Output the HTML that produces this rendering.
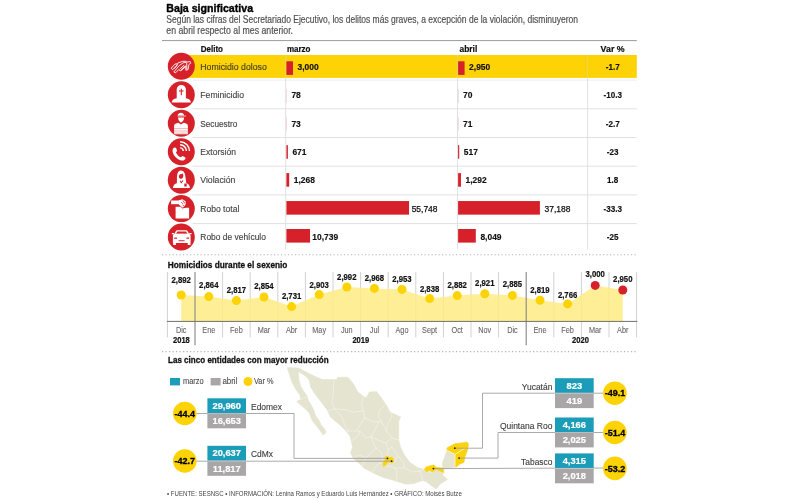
<!DOCTYPE html>
<html><head><meta charset="utf-8"><title>Baja significativa</title>
<style>
html,body{margin:0;padding:0;background:#fff;}
body{width:800px;height:500px;overflow:hidden;font-family:"Liberation Sans",sans-serif;}
svg{display:block;will-change:transform;font-family:"Liberation Sans",sans-serif;}
</style></head><body>
<svg width="800" height="500" viewBox="0 0 800 500">
<rect width="800" height="500" fill="#fff"/>
<text x="166.30" y="11.50" font-size="10.4" fill="#000" font-weight="700" stroke="#000" stroke-width="0.35" textLength="86.80" lengthAdjust="spacingAndGlyphs">Baja significativa</text>
<text x="166.30" y="23.30" font-size="10.2" fill="#505050" stroke="#505050" stroke-width="0.18" textLength="411.70" lengthAdjust="spacingAndGlyphs">Según las cifras del Secretariado Ejecutivo, los delitos más graves, a excepción de la violación, disminuyeron</text>
<text x="166.30" y="33.70" font-size="10.2" fill="#505050" stroke="#505050" stroke-width="0.18" textLength="126.70" lengthAdjust="spacingAndGlyphs">en abril respecto al mes anterior.</text>
<line x1="162.00" y1="40.60" x2="636.80" y2="40.60" stroke="#9a9a9a" stroke-width="1"/>
<text x="200.80" y="52.00" font-size="8.9" fill="#111" font-weight="700" stroke="#111" stroke-width="0.2" textLength="22.20" lengthAdjust="spacingAndGlyphs">Delito</text>
<text x="286.90" y="52.00" font-size="8.9" fill="#111" font-weight="700" stroke="#111" stroke-width="0.2" textLength="23.60" lengthAdjust="spacingAndGlyphs">marzo</text>
<text x="459.50" y="52.00" font-size="8.9" fill="#111" font-weight="700" stroke="#111" stroke-width="0.2" textLength="17.80" lengthAdjust="spacingAndGlyphs">abril</text>
<text x="600.60" y="52.00" font-size="8.9" fill="#111" font-weight="700" stroke="#111" stroke-width="0.2" textLength="24.00" lengthAdjust="spacingAndGlyphs">Var %</text>
<rect x="181.00" y="55.00" width="455.80" height="22.90" fill="#fdd306"/>
<line x1="192.50" y1="80.10" x2="636.80" y2="80.10" stroke="#ededed" stroke-width="1"/>
<line x1="192.50" y1="108.80" x2="636.80" y2="108.80" stroke="#e1e1e1" stroke-width="1"/>
<line x1="192.50" y1="137.50" x2="636.80" y2="137.50" stroke="#e1e1e1" stroke-width="1"/>
<line x1="192.50" y1="166.20" x2="636.80" y2="166.20" stroke="#e1e1e1" stroke-width="1"/>
<line x1="192.50" y1="194.90" x2="636.80" y2="194.90" stroke="#e1e1e1" stroke-width="1"/>
<line x1="192.50" y1="223.60" x2="636.80" y2="223.60" stroke="#e1e1e1" stroke-width="1"/>
<line x1="285.70" y1="55.00" x2="285.70" y2="78.00" stroke="#d9d9d9" stroke-width="0.9" stroke-opacity="0.45"/>
<line x1="285.70" y1="78.00" x2="285.70" y2="249.50" stroke="#dedede" stroke-width="0.9"/>
<line x1="457.50" y1="55.00" x2="457.50" y2="78.00" stroke="#d9d9d9" stroke-width="0.9" stroke-opacity="0.45"/>
<line x1="457.50" y1="78.00" x2="457.50" y2="249.50" stroke="#dedede" stroke-width="0.9"/>
<line x1="587.60" y1="55.00" x2="587.60" y2="78.00" stroke="#d9d9d9" stroke-width="0.9" stroke-opacity="0.45"/>
<line x1="587.60" y1="78.00" x2="587.60" y2="249.50" stroke="#dedede" stroke-width="0.9"/>
<circle cx="181.30" cy="66.30" r="13.50" fill="#d6212a"/>
<text x="200.30" y="70.00" font-size="9.5" fill="#454128" stroke="#454128" stroke-width="0.15" textLength="66.50" lengthAdjust="spacingAndGlyphs">Homicidio doloso</text>
<rect x="286.40" y="61.30" width="6.60" height="13.60" fill="#d6212a"/>
<text x="297.50" y="70.10" font-size="9" fill="#111" font-weight="700" stroke="#111" stroke-width="0.15" textLength="21.17" lengthAdjust="spacingAndGlyphs">3,000</text>
<rect x="458.10" y="61.30" width="6.49" height="13.60" fill="#d6212a"/>
<text x="469.09" y="70.10" font-size="9" fill="#111" font-weight="700" stroke="#111" stroke-width="0.15" textLength="21.17" lengthAdjust="spacingAndGlyphs">2,950</text>
<text x="612.70" y="70.10" font-size="9" fill="#111" font-weight="700" stroke="#111" stroke-width="0.15" text-anchor="middle" textLength="13.96" lengthAdjust="spacingAndGlyphs">-1.7</text>
<circle cx="181.30" cy="94.76" r="13.50" fill="#d6212a"/>
<text x="200.30" y="98.30" font-size="9.5" fill="#454545" stroke="#454545" stroke-width="0.15" textLength="43.70" lengthAdjust="spacingAndGlyphs">Feminicidio</text>
<rect x="286.40" y="89.25" width="0.50" height="13.60" fill="#f0b9bb"/>
<text x="291.40" y="98.40" font-size="9" fill="#111" font-weight="700" stroke="#111" stroke-width="0.15" textLength="9.41" lengthAdjust="spacingAndGlyphs">78</text>
<rect x="458.10" y="89.25" width="0.50" height="13.60" fill="#f0b9bb"/>
<text x="463.10" y="98.40" font-size="9" fill="#111" font-weight="700" stroke="#111" stroke-width="0.15" textLength="9.41" lengthAdjust="spacingAndGlyphs">70</text>
<text x="612.70" y="98.40" font-size="9" fill="#111" font-weight="700" stroke="#111" stroke-width="0.15" text-anchor="middle" textLength="18.46" lengthAdjust="spacingAndGlyphs">-10.3</text>
<circle cx="181.30" cy="123.22" r="13.50" fill="#d6212a"/>
<text x="200.30" y="126.60" font-size="9.5" fill="#454545" stroke="#454545" stroke-width="0.15" textLength="37.00" lengthAdjust="spacingAndGlyphs">Secuestro</text>
<rect x="286.40" y="117.20" width="0.50" height="13.60" fill="#f0b9bb"/>
<text x="291.40" y="126.70" font-size="9" fill="#111" font-weight="700" stroke="#111" stroke-width="0.15" textLength="9.41" lengthAdjust="spacingAndGlyphs">73</text>
<rect x="458.10" y="117.20" width="0.50" height="13.60" fill="#f0b9bb"/>
<text x="463.10" y="126.70" font-size="9" fill="#111" font-weight="700" stroke="#111" stroke-width="0.15" textLength="9.41" lengthAdjust="spacingAndGlyphs">71</text>
<text x="612.70" y="126.70" font-size="9" fill="#111" font-weight="700" stroke="#111" stroke-width="0.15" text-anchor="middle" textLength="13.96" lengthAdjust="spacingAndGlyphs">-2.7</text>
<circle cx="181.30" cy="151.68" r="13.50" fill="#d6212a"/>
<text x="200.30" y="154.90" font-size="9.5" fill="#454545" stroke="#454545" stroke-width="0.15" textLength="35.60" lengthAdjust="spacingAndGlyphs">Extorsión</text>
<rect x="286.40" y="145.15" width="1.48" height="13.60" fill="#d6212a"/>
<text x="292.38" y="155.00" font-size="9" fill="#111" font-weight="700" stroke="#111" stroke-width="0.15" textLength="14.12" lengthAdjust="spacingAndGlyphs">671</text>
<rect x="458.10" y="145.15" width="1.14" height="13.60" fill="#d6212a"/>
<text x="463.74" y="155.00" font-size="9" fill="#111" font-weight="700" stroke="#111" stroke-width="0.15" textLength="14.12" lengthAdjust="spacingAndGlyphs">517</text>
<text x="612.70" y="155.00" font-size="9" fill="#111" font-weight="700" stroke="#111" stroke-width="0.15" text-anchor="middle" textLength="11.71" lengthAdjust="spacingAndGlyphs">-23</text>
<circle cx="181.30" cy="180.14" r="13.50" fill="#d6212a"/>
<text x="200.30" y="183.20" font-size="9.5" fill="#454545" stroke="#454545" stroke-width="0.15" textLength="35.00" lengthAdjust="spacingAndGlyphs">Violación</text>
<rect x="286.40" y="173.10" width="2.79" height="13.60" fill="#d6212a"/>
<text x="293.69" y="183.30" font-size="9" fill="#111" font-weight="700" stroke="#111" stroke-width="0.15" textLength="21.17" lengthAdjust="spacingAndGlyphs">1,268</text>
<rect x="458.10" y="173.10" width="2.84" height="13.60" fill="#d6212a"/>
<text x="465.44" y="183.30" font-size="9" fill="#111" font-weight="700" stroke="#111" stroke-width="0.15" textLength="21.17" lengthAdjust="spacingAndGlyphs">1,292</text>
<text x="612.70" y="183.30" font-size="9" fill="#111" font-weight="700" stroke="#111" stroke-width="0.15" text-anchor="middle" textLength="11.26" lengthAdjust="spacingAndGlyphs">1.8</text>
<circle cx="181.30" cy="208.60" r="13.50" fill="#d6212a"/>
<text x="200.30" y="211.50" font-size="9.5" fill="#454545" stroke="#454545" stroke-width="0.15" textLength="39.00" lengthAdjust="spacingAndGlyphs">Robo total</text>
<rect x="286.40" y="201.05" width="122.65" height="13.60" fill="#d6212a"/>
<text x="411.65" y="211.60" font-size="9" fill="#111" stroke="#111" stroke-width="0.25" textLength="25.88" lengthAdjust="spacingAndGlyphs">55,748</text>
<rect x="458.10" y="201.05" width="81.81" height="13.60" fill="#d6212a"/>
<text x="544.51" y="211.60" font-size="9" fill="#111" stroke="#111" stroke-width="0.25" textLength="25.88" lengthAdjust="spacingAndGlyphs">37,188</text>
<text x="612.70" y="211.60" font-size="9" fill="#111" font-weight="700" stroke="#111" stroke-width="0.15" text-anchor="middle" textLength="18.46" lengthAdjust="spacingAndGlyphs">-33.3</text>
<circle cx="181.30" cy="237.06" r="13.50" fill="#d6212a"/>
<text x="200.30" y="239.80" font-size="9.5" fill="#454545" stroke="#454545" stroke-width="0.15" textLength="65.60" lengthAdjust="spacingAndGlyphs">Robo de vehículo</text>
<rect x="286.40" y="229.00" width="23.63" height="13.60" fill="#d6212a"/>
<text x="312.23" y="239.90" font-size="9" fill="#111" font-weight="700" stroke="#111" stroke-width="0.15" textLength="25.88" lengthAdjust="spacingAndGlyphs">10,739</text>
<rect x="458.10" y="229.00" width="17.71" height="13.60" fill="#d6212a"/>
<text x="480.41" y="239.90" font-size="9" fill="#111" font-weight="700" stroke="#111" stroke-width="0.15" textLength="21.17" lengthAdjust="spacingAndGlyphs">8,049</text>
<text x="612.70" y="239.90" font-size="9" fill="#111" font-weight="700" stroke="#111" stroke-width="0.15" text-anchor="middle" textLength="11.71" lengthAdjust="spacingAndGlyphs">-25</text>
<line x1="162.00" y1="254.70" x2="637.30" y2="254.70" stroke="#b5b5b5" stroke-width="1.1" stroke-dasharray="1.2 2.3"/>
<line x1="162.00" y1="351.60" x2="637.30" y2="351.60" stroke="#b5b5b5" stroke-width="1.1" stroke-dasharray="1.2 2.3"/>
<text x="167.80" y="267.50" font-size="9.3" fill="#111" font-weight="700" stroke="#111" stroke-width="0.3" textLength="119.60" lengthAdjust="spacingAndGlyphs">Homicidios durante el sexenio</text>
<line x1="167.40" y1="272.00" x2="167.40" y2="337.40" stroke="#d2d2d2" stroke-width="1"/>
<line x1="222.60" y1="272.00" x2="222.60" y2="337.40" stroke="#d2d2d2" stroke-width="1"/>
<line x1="250.20" y1="272.00" x2="250.20" y2="337.40" stroke="#d2d2d2" stroke-width="1"/>
<line x1="277.80" y1="272.00" x2="277.80" y2="337.40" stroke="#d2d2d2" stroke-width="1"/>
<line x1="305.40" y1="272.00" x2="305.40" y2="337.40" stroke="#d2d2d2" stroke-width="1"/>
<line x1="333.00" y1="272.00" x2="333.00" y2="337.40" stroke="#d2d2d2" stroke-width="1"/>
<line x1="360.60" y1="272.00" x2="360.60" y2="337.40" stroke="#d2d2d2" stroke-width="1"/>
<line x1="388.20" y1="272.00" x2="388.20" y2="337.40" stroke="#d2d2d2" stroke-width="1"/>
<line x1="415.80" y1="272.00" x2="415.80" y2="337.40" stroke="#d2d2d2" stroke-width="1"/>
<line x1="443.40" y1="272.00" x2="443.40" y2="337.40" stroke="#d2d2d2" stroke-width="1"/>
<line x1="471.00" y1="272.00" x2="471.00" y2="337.40" stroke="#d2d2d2" stroke-width="1"/>
<line x1="498.60" y1="272.00" x2="498.60" y2="337.40" stroke="#d2d2d2" stroke-width="1"/>
<line x1="553.80" y1="272.00" x2="553.80" y2="337.40" stroke="#d2d2d2" stroke-width="1"/>
<line x1="581.40" y1="272.00" x2="581.40" y2="337.40" stroke="#d2d2d2" stroke-width="1"/>
<line x1="609.00" y1="272.00" x2="609.00" y2="337.40" stroke="#d2d2d2" stroke-width="1"/>
<line x1="636.60" y1="272.00" x2="636.60" y2="337.40" stroke="#d2d2d2" stroke-width="1"/>
<polygon points="181.2,321.3 181.2,295.0 208.8,296.6 236.4,300.6 264.0,297.0 291.6,306.6 319.2,294.6 346.8,287.0 374.4,288.4 402.0,289.4 429.6,298.6 457.2,295.6 484.8,293.7 512.4,295.4 540.0,300.3 567.6,303.9 595.2,285.4 622.8,290.0 622.8,321.3" fill="#feeb85" fill-opacity="0.86"/>
<line x1="195.00" y1="272.00" x2="195.00" y2="345.30" stroke="#8f8f8f" stroke-width="1.2"/>
<line x1="526.20" y1="272.00" x2="526.20" y2="345.30" stroke="#8f8f8f" stroke-width="1.2"/>
<line x1="166.90" y1="321.40" x2="637.30" y2="321.40" stroke="#6e6e6e" stroke-width="1"/>
<circle cx="181.20" cy="295.00" r="4.50" fill="#fdd306"/>
<text x="181.20" y="283.00" font-size="8.6" fill="#111" font-weight="700" stroke="#111" stroke-width="0.2" text-anchor="middle" textLength="19.37" lengthAdjust="spacingAndGlyphs">2,892</text>
<text x="181.20" y="333.00" font-size="8.9" fill="#666" stroke="#666" stroke-width="0.1" text-anchor="middle" textLength="10.54" lengthAdjust="spacingAndGlyphs">Dic</text>
<circle cx="208.80" cy="296.60" r="4.50" fill="#fdd306"/>
<text x="208.80" y="288.20" font-size="8.6" fill="#111" font-weight="700" stroke="#111" stroke-width="0.2" text-anchor="middle" textLength="19.37" lengthAdjust="spacingAndGlyphs">2,864</text>
<text x="208.80" y="333.00" font-size="8.9" fill="#666" stroke="#666" stroke-width="0.1" text-anchor="middle" textLength="12.99" lengthAdjust="spacingAndGlyphs">Ene</text>
<circle cx="236.40" cy="300.60" r="4.50" fill="#fdd306"/>
<text x="236.40" y="292.70" font-size="8.6" fill="#111" font-weight="700" stroke="#111" stroke-width="0.2" text-anchor="middle" textLength="19.37" lengthAdjust="spacingAndGlyphs">2,817</text>
<text x="236.40" y="333.00" font-size="8.9" fill="#666" stroke="#666" stroke-width="0.1" text-anchor="middle" textLength="12.58" lengthAdjust="spacingAndGlyphs">Feb</text>
<circle cx="264.00" cy="297.00" r="4.50" fill="#fdd306"/>
<text x="264.00" y="289.20" font-size="8.6" fill="#111" font-weight="700" stroke="#111" stroke-width="0.2" text-anchor="middle" textLength="19.37" lengthAdjust="spacingAndGlyphs">2,854</text>
<text x="264.00" y="333.00" font-size="8.9" fill="#666" stroke="#666" stroke-width="0.1" text-anchor="middle" textLength="12.57" lengthAdjust="spacingAndGlyphs">Mar</text>
<circle cx="291.60" cy="306.60" r="4.50" fill="#fdd306"/>
<text x="291.60" y="299.20" font-size="8.6" fill="#111" font-weight="700" stroke="#111" stroke-width="0.2" text-anchor="middle" textLength="19.37" lengthAdjust="spacingAndGlyphs">2,731</text>
<text x="291.60" y="333.00" font-size="8.9" fill="#666" stroke="#666" stroke-width="0.1" text-anchor="middle" textLength="11.36" lengthAdjust="spacingAndGlyphs">Abr</text>
<circle cx="319.20" cy="294.60" r="4.50" fill="#fdd306"/>
<text x="319.20" y="288.00" font-size="8.6" fill="#111" font-weight="700" stroke="#111" stroke-width="0.2" text-anchor="middle" textLength="19.37" lengthAdjust="spacingAndGlyphs">2,903</text>
<text x="319.20" y="333.00" font-size="8.9" fill="#666" stroke="#666" stroke-width="0.1" text-anchor="middle" textLength="13.79" lengthAdjust="spacingAndGlyphs">May</text>
<circle cx="346.80" cy="287.00" r="4.50" fill="#fdd306"/>
<text x="346.80" y="279.50" font-size="8.6" fill="#111" font-weight="700" stroke="#111" stroke-width="0.2" text-anchor="middle" textLength="19.37" lengthAdjust="spacingAndGlyphs">2,992</text>
<text x="346.80" y="333.00" font-size="8.9" fill="#666" stroke="#666" stroke-width="0.1" text-anchor="middle" textLength="11.77" lengthAdjust="spacingAndGlyphs">Jun</text>
<circle cx="374.40" cy="288.40" r="4.50" fill="#fdd306"/>
<text x="374.40" y="280.50" font-size="8.6" fill="#111" font-weight="700" stroke="#111" stroke-width="0.2" text-anchor="middle" textLength="19.37" lengthAdjust="spacingAndGlyphs">2,968</text>
<text x="374.40" y="333.00" font-size="8.9" fill="#666" stroke="#666" stroke-width="0.1" text-anchor="middle" textLength="9.33" lengthAdjust="spacingAndGlyphs">Jul</text>
<circle cx="402.00" cy="289.40" r="4.50" fill="#fdd306"/>
<text x="402.00" y="282.00" font-size="8.6" fill="#111" font-weight="700" stroke="#111" stroke-width="0.2" text-anchor="middle" textLength="19.37" lengthAdjust="spacingAndGlyphs">2,953</text>
<text x="402.00" y="333.00" font-size="8.9" fill="#666" stroke="#666" stroke-width="0.1" text-anchor="middle" textLength="12.99" lengthAdjust="spacingAndGlyphs">Ago</text>
<circle cx="429.60" cy="298.60" r="4.50" fill="#fdd306"/>
<text x="429.60" y="291.50" font-size="8.6" fill="#111" font-weight="700" stroke="#111" stroke-width="0.2" text-anchor="middle" textLength="19.37" lengthAdjust="spacingAndGlyphs">2,838</text>
<text x="429.60" y="333.00" font-size="8.9" fill="#666" stroke="#666" stroke-width="0.1" text-anchor="middle" textLength="15.01" lengthAdjust="spacingAndGlyphs">Sept</text>
<circle cx="457.20" cy="295.60" r="4.50" fill="#fdd306"/>
<text x="457.20" y="288.00" font-size="8.6" fill="#111" font-weight="700" stroke="#111" stroke-width="0.2" text-anchor="middle" textLength="19.37" lengthAdjust="spacingAndGlyphs">2,882</text>
<text x="457.20" y="333.00" font-size="8.9" fill="#666" stroke="#666" stroke-width="0.1" text-anchor="middle" textLength="11.35" lengthAdjust="spacingAndGlyphs">Oct</text>
<circle cx="484.80" cy="293.70" r="4.50" fill="#fdd306"/>
<text x="484.80" y="285.90" font-size="8.6" fill="#111" font-weight="700" stroke="#111" stroke-width="0.2" text-anchor="middle" textLength="19.37" lengthAdjust="spacingAndGlyphs">2,921</text>
<text x="484.80" y="333.00" font-size="8.9" fill="#666" stroke="#666" stroke-width="0.1" text-anchor="middle" textLength="12.98" lengthAdjust="spacingAndGlyphs">Nov</text>
<circle cx="512.40" cy="295.40" r="4.50" fill="#fdd306"/>
<text x="512.40" y="287.40" font-size="8.6" fill="#111" font-weight="700" stroke="#111" stroke-width="0.2" text-anchor="middle" textLength="19.37" lengthAdjust="spacingAndGlyphs">2,885</text>
<text x="512.40" y="333.00" font-size="8.9" fill="#666" stroke="#666" stroke-width="0.1" text-anchor="middle" textLength="10.54" lengthAdjust="spacingAndGlyphs">Dic</text>
<circle cx="540.00" cy="300.30" r="4.50" fill="#fdd306"/>
<text x="540.00" y="293.30" font-size="8.6" fill="#111" font-weight="700" stroke="#111" stroke-width="0.2" text-anchor="middle" textLength="19.37" lengthAdjust="spacingAndGlyphs">2,819</text>
<text x="540.00" y="333.00" font-size="8.9" fill="#666" stroke="#666" stroke-width="0.1" text-anchor="middle" textLength="12.99" lengthAdjust="spacingAndGlyphs">Ene</text>
<circle cx="567.60" cy="303.90" r="4.50" fill="#fdd306"/>
<text x="567.60" y="297.60" font-size="8.6" fill="#111" font-weight="700" stroke="#111" stroke-width="0.2" text-anchor="middle" textLength="19.37" lengthAdjust="spacingAndGlyphs">2,766</text>
<text x="567.60" y="333.00" font-size="8.9" fill="#666" stroke="#666" stroke-width="0.1" text-anchor="middle" textLength="12.58" lengthAdjust="spacingAndGlyphs">Feb</text>
<circle cx="595.20" cy="285.40" r="4.50" fill="#d6212a"/>
<text x="595.20" y="277.40" font-size="8.6" fill="#111" font-weight="700" stroke="#111" stroke-width="0.2" text-anchor="middle" textLength="19.37" lengthAdjust="spacingAndGlyphs">3,000</text>
<text x="595.20" y="333.00" font-size="8.9" fill="#666" stroke="#666" stroke-width="0.1" text-anchor="middle" textLength="12.57" lengthAdjust="spacingAndGlyphs">Mar</text>
<circle cx="622.80" cy="290.00" r="4.50" fill="#d6212a"/>
<text x="622.80" y="282.30" font-size="8.6" fill="#111" font-weight="700" stroke="#111" stroke-width="0.2" text-anchor="middle" textLength="19.37" lengthAdjust="spacingAndGlyphs">2,950</text>
<text x="622.80" y="333.00" font-size="8.9" fill="#666" stroke="#666" stroke-width="0.1" text-anchor="middle" textLength="11.36" lengthAdjust="spacingAndGlyphs">Abr</text>
<text x="181.40" y="343.30" font-size="8.6" fill="#111" font-weight="700" stroke="#111" stroke-width="0.2" text-anchor="middle" textLength="16.84" lengthAdjust="spacingAndGlyphs">2018</text>
<text x="360.80" y="343.30" font-size="8.6" fill="#111" font-weight="700" stroke="#111" stroke-width="0.2" text-anchor="middle" textLength="16.84" lengthAdjust="spacingAndGlyphs">2019</text>
<text x="580.50" y="343.30" font-size="8.6" fill="#111" font-weight="700" stroke="#111" stroke-width="0.2" text-anchor="middle" textLength="16.84" lengthAdjust="spacingAndGlyphs">2020</text>
<text x="168.00" y="363.00" font-size="9.3" fill="#111" font-weight="700" stroke="#111" stroke-width="0.3" textLength="160.70" lengthAdjust="spacingAndGlyphs">Las cinco entidades con mayor reducción</text>
<rect x="170.00" y="378.00" width="10.00" height="7.40" fill="#1b9cb8"/>
<text x="183.00" y="384.00" font-size="8.8" fill="#4a4a4a" stroke="#4a4a4a" stroke-width="0.1" textLength="20.60" lengthAdjust="spacingAndGlyphs">marzo</text>
<rect x="210.60" y="378.00" width="10.00" height="7.40" fill="#a8a6a7"/>
<text x="222.40" y="384.00" font-size="8.8" fill="#4a4a4a" stroke="#4a4a4a" stroke-width="0.1" textLength="15.00" lengthAdjust="spacingAndGlyphs">abril</text>
<circle cx="248.00" cy="381.50" r="4.50" fill="#fdd306"/>
<text x="254.00" y="384.00" font-size="8.8" fill="#4a4a4a" stroke="#4a4a4a" stroke-width="0.1" textLength="19.40" lengthAdjust="spacingAndGlyphs">Var %</text>
<path d="M287.2,367.6 L298.8,368.0 L305.0,371.4 L317.5,377.6 L322.5,379.5 L336.9,379.5 L337.5,377.2 L347.5,377.2 L350.0,379.5 L353.8,384.5 L357.5,391.4 L362.5,395.8 L366.2,397.6 L369.4,392.0 L376.5,391.6 L381.2,397.5 L386.2,405.0 L390.6,412.5 L400.6,416.9 L398.8,421.2 L398.8,440.0 L400.6,447.5 L404.4,455.0 L410.0,462.5 L417.5,467.5 L424.4,469.4 L426.2,466.9 L433.8,465.0 L436.2,467.5 L442.5,468.1 L442.5,462.5 L445.0,456.2 L446.9,450.0 L446.9,448.1 L455.0,443.8 L462.5,442.9 L466.9,441.9 L468.5,443.8 L467.5,450.0 L465.0,456.2 L463.8,462.5 L460.0,463.8 L456.2,466.9 L455.0,467.2 L444.0,469.0 L443.8,471.8 L442.5,474.9 L447.5,479.2 L440.0,484.2 L436.2,489.2 L431.2,485.5 L426.2,481.8 L422.5,480.5 L413.8,483.6 L406.2,484.2 L398.8,482.0 L392.5,480.0 L385.0,478.1 L377.5,475.0 L370.0,471.2 L363.8,468.1 L358.8,463.1 L353.8,458.8 L350.6,453.1 L352.5,446.9 L351.2,441.2 L350.0,436.2 L346.2,431.2 L340.0,425.0 L333.8,420.0 L330.0,416.5 L328.8,413.0 L326.9,409.5 L323.1,404.5 L318.8,398.9 L314.4,393.2 L310.6,387.0 L309.4,380.8 L306.2,376.4 L300.0,372.6 L299.2,371.3 L298.5,373.2 L298.8,379.5 L300.6,385.8 L303.8,391.4 L306.9,395.8 L308.1,400.1 L311.2,405.1 L313.8,410.1 L315.6,415.8 L318.8,420.0 L321.2,425.0 L324.4,428.8 L326.2,432.5 L323.1,435.0 L320.6,431.2 L316.2,425.6 L311.9,420.0 L309.4,413.2 L305.6,408.9 L300.6,405.1 L296.9,401.4 L300.6,399.5 L300.0,395.1 L295.6,388.9 L291.9,382.0 L289.4,374.5Z" fill="#e5e4d1" stroke="#e5e4d1" stroke-width="0.6" stroke-linejoin="round"/>
<path d="M300.6,399.5 L306.9,397.0 M334.0,379.5 L333.0,397.5 L331.5,402.0 L334.6,408.8 M334.6,408.8 L328.0,411.0 M334.6,408.8 L348.1,409.9 L352.6,412.1 L363.3,411.0 M366.0,397.6 L363.3,396.4 L361.6,403.1 L363.3,411.0 M334.6,408.8 L342.5,417.8 L344.8,425.6 L348.1,431.0 M348.1,431.0 L345.8,431.6 M363.3,411.0 L365.0,417.8 M365.0,417.8 L360.0,425.0 L356.0,431.0 L348.1,431.0 M365.0,417.8 L373.0,422.0 L379.0,421.5 M384.7,405.4 L379.6,409.9 L378.5,416.6 L381.9,422.2 M387.5,406.5 L392.0,416.6 L387.5,424.5 L386.4,431.0 M379.0,421.5 L381.9,422.2 M379.0,421.5 L375.0,430.0 L371.0,437.0 M381.9,422.2 L386.4,431.0 L392.0,438.0 L398.5,440.0 M351.5,441.0 L357.0,437.0 L360.0,431.0 L356.0,431.0 M360.0,431.0 L366.0,438.0 L371.0,437.0 M362.0,466.5 L366.0,458.0 L372.0,452.0 L376.0,448.0 M371.0,437.0 L374.0,444.0 L376.0,448.0 M371.0,437.0 L380.0,441.0 L386.0,443.0 M386.0,443.0 L392.0,438.0 M372.0,471.8 L378.0,464.0 L383.0,462.0 M376.0,448.0 L381.0,452.0 L383.0,460.0 M396.0,481.3 L397.0,472.0 L395.0,468.0 M385.6,465.6 L389.0,466.0 L395.0,468.0 M392.0,447.0 L398.0,456.0 L403.0,462.0 L405.0,468.0 M395.0,468.0 L405.0,468.0 L412.0,472.0 L420.0,471.0 M420.0,471.0 L423.0,480.5 M420.0,471.0 L424.4,469.4 M386.0,443.0 L388.0,450.0 L392.0,447.0 M388.0,450.0 L387.5,456.0 M393.8,461.9 L398.0,456.0 M426.9,472.2 L432.5,471.9 L436.2,469.4 L440.0,471.2 L444.0,472.5 M354.0,458.5 L358.0,455.0 L362.0,456.0 L366.0,458.0" fill="none" stroke="#f3f2e8" stroke-width="0.7" stroke-linejoin="round" stroke-linecap="round"/>
<path d="M385.0,456.9 L387.5,456.0 L389.4,458.1 L390.6,456.9 L393.1,458.1 L393.8,461.9 L391.9,463.1 L390.0,461.9 L387.5,462.5 L385.6,465.6 L383.1,466.2 L383.1,462.5 L385.0,460.0Z" fill="#fdd306" stroke="#fdd306" stroke-width="0.5" stroke-linejoin="round"/>
<path d="M446.9,448.1 L455.0,443.8 L466.2,442.5 L465.0,448.1 L455.0,454.4 L447.5,450.6Z" fill="#fdd306" stroke="#fdd306" stroke-width="0.5" stroke-linejoin="round"/>
<path d="M466.2,441.9 L468.5,443.8 L467.5,450.0 L465.0,456.2 L463.8,462.5 L460.0,463.8 L456.2,466.9 L455.0,466.2 L455.0,454.4 L465.0,448.1Z" fill="#fdd306" stroke="#fdd306" stroke-width="0.5" stroke-linejoin="round"/>
<path d="M424.4,469.4 L426.2,466.9 L433.8,465.0 L436.2,467.5 L442.5,468.1 L444.0,472.5 L440.0,471.2 L436.2,469.4 L432.5,471.9 L428.8,470.0 L426.9,472.2Z" fill="#fdd306" stroke="#fdd306" stroke-width="0.5" stroke-linejoin="round"/>
<path d="M465,448.1 L455,454.4 L455,466.5 M455,454.4 L447.2,450.4" fill="none" stroke="#fff" stroke-width="0.7"/>
<polyline points="196,413.5 294,413.5 294,458.4 387.5,458.4" fill="none" stroke="#a0a0a0" stroke-width="0.9"/>
<polyline points="196,461.2 391.6,461.2" fill="none" stroke="#a0a0a0" stroke-width="0.9"/>
<rect x="207.40" y="398.30" width="38.60" height="14.90" fill="#1b9cb8"/>
<rect x="207.40" y="413.80" width="38.60" height="14.50" fill="#a8a6a7"/>
<line x1="207.40" y1="413.50" x2="246.00" y2="413.50" stroke="#d8c9cb" stroke-width="0.6"/>
<text x="226.70" y="408.70" font-size="9.4" fill="#fff" font-weight="700" stroke="#fff" stroke-width="0.2" text-anchor="middle" textLength="28.46" lengthAdjust="spacingAndGlyphs">29,960</text>
<text x="226.70" y="424.30" font-size="9.4" fill="#fff" font-weight="700" stroke="#fff" stroke-width="0.2" text-anchor="middle" textLength="28.46" lengthAdjust="spacingAndGlyphs">16,653</text>
<circle cx="184.80" cy="413.50" r="11.80" fill="#fdd306"/>
<text x="184.80" y="416.70" font-size="9.0" fill="#000" font-weight="700" stroke="#000" stroke-width="0.3" text-anchor="middle" textLength="20.51" lengthAdjust="spacingAndGlyphs">-44.4</text>
<text x="251.00" y="409.50" font-size="9.6" fill="#3c3c3c" stroke="#3c3c3c" stroke-width="0.12" textLength="31.00" lengthAdjust="spacingAndGlyphs">Edomex</text>
<rect x="207.40" y="445.80" width="38.60" height="14.90" fill="#1b9cb8"/>
<rect x="207.40" y="461.30" width="38.60" height="14.50" fill="#a8a6a7"/>
<line x1="207.40" y1="461.00" x2="246.00" y2="461.00" stroke="#d8c9cb" stroke-width="0.6"/>
<text x="226.70" y="456.20" font-size="9.4" fill="#fff" font-weight="700" stroke="#fff" stroke-width="0.2" text-anchor="middle" textLength="28.46" lengthAdjust="spacingAndGlyphs">20,637</text>
<text x="226.70" y="471.80" font-size="9.4" fill="#fff" font-weight="700" stroke="#fff" stroke-width="0.2" text-anchor="middle" textLength="27.95" lengthAdjust="spacingAndGlyphs">11,817</text>
<circle cx="184.80" cy="461.00" r="11.80" fill="#fdd306"/>
<text x="184.80" y="464.20" font-size="9.0" fill="#000" font-weight="700" stroke="#000" stroke-width="0.3" text-anchor="middle" textLength="20.51" lengthAdjust="spacingAndGlyphs">-42.7</text>
<text x="251.00" y="457.00" font-size="9.6" fill="#3c3c3c" stroke="#3c3c3c" stroke-width="0.12" textLength="22.00" lengthAdjust="spacingAndGlyphs">CdMx</text>
<polyline points="603,393.2 482.5,393.2 482.5,448.2 454.8,448.2" fill="none" stroke="#a0a0a0" stroke-width="0.9"/>
<polyline points="603,432.5 498,432.5 498,458.1 459.1,458.1" fill="none" stroke="#a0a0a0" stroke-width="0.9"/>
<polyline points="603,468 433.4,468.6" fill="none" stroke="#a0a0a0" stroke-width="0.9"/>
<rect x="555.00" y="378.20" width="38.70" height="14.70" fill="#1b9cb8"/>
<rect x="555.00" y="393.50" width="38.70" height="14.60" fill="#a8a6a7"/>
<line x1="555.00" y1="393.20" x2="593.70" y2="393.20" stroke="#d8c9cb" stroke-width="0.6"/>
<text x="574.30" y="388.80" font-size="9.4" fill="#fff" font-weight="700" stroke="#fff" stroke-width="0.2" text-anchor="middle" textLength="15.53" lengthAdjust="spacingAndGlyphs">823</text>
<text x="574.30" y="404.10" font-size="9.4" fill="#fff" font-weight="700" stroke="#fff" stroke-width="0.2" text-anchor="middle" textLength="15.53" lengthAdjust="spacingAndGlyphs">419</text>
<circle cx="614.90" cy="393.20" r="11.80" fill="#fdd306"/>
<text x="614.90" y="396.40" font-size="9.0" fill="#000" font-weight="700" stroke="#000" stroke-width="0.3" text-anchor="middle" textLength="20.51" lengthAdjust="spacingAndGlyphs">-49.1</text>
<text x="552.40" y="389.90" font-size="9.6" fill="#3c3c3c" stroke="#3c3c3c" stroke-width="0.12" text-anchor="end" textLength="30.60" lengthAdjust="spacingAndGlyphs">Yucatán</text>
<rect x="555.00" y="417.50" width="38.70" height="14.70" fill="#1b9cb8"/>
<rect x="555.00" y="432.80" width="38.70" height="14.60" fill="#a8a6a7"/>
<line x1="555.00" y1="432.50" x2="593.70" y2="432.50" stroke="#d8c9cb" stroke-width="0.6"/>
<text x="574.30" y="428.10" font-size="9.4" fill="#fff" font-weight="700" stroke="#fff" stroke-width="0.2" text-anchor="middle" textLength="23.29" lengthAdjust="spacingAndGlyphs">4,166</text>
<text x="574.30" y="443.40" font-size="9.4" fill="#fff" font-weight="700" stroke="#fff" stroke-width="0.2" text-anchor="middle" textLength="23.29" lengthAdjust="spacingAndGlyphs">2,025</text>
<circle cx="614.90" cy="432.50" r="11.80" fill="#fdd306"/>
<text x="614.90" y="435.70" font-size="9.0" fill="#000" font-weight="700" stroke="#000" stroke-width="0.3" text-anchor="middle" textLength="20.51" lengthAdjust="spacingAndGlyphs">-51.4</text>
<text x="552.40" y="429.20" font-size="9.6" fill="#3c3c3c" stroke="#3c3c3c" stroke-width="0.12" text-anchor="end" textLength="52.50" lengthAdjust="spacingAndGlyphs">Quintana Roo</text>
<rect x="555.00" y="453.40" width="38.70" height="14.70" fill="#1b9cb8"/>
<rect x="555.00" y="468.70" width="38.70" height="14.60" fill="#a8a6a7"/>
<line x1="555.00" y1="468.40" x2="593.70" y2="468.40" stroke="#d8c9cb" stroke-width="0.6"/>
<text x="574.30" y="464.00" font-size="9.4" fill="#fff" font-weight="700" stroke="#fff" stroke-width="0.2" text-anchor="middle" textLength="23.29" lengthAdjust="spacingAndGlyphs">4,315</text>
<text x="574.30" y="479.30" font-size="9.4" fill="#fff" font-weight="700" stroke="#fff" stroke-width="0.2" text-anchor="middle" textLength="23.29" lengthAdjust="spacingAndGlyphs">2,018</text>
<circle cx="614.90" cy="468.40" r="11.80" fill="#fdd306"/>
<text x="614.90" y="471.60" font-size="9.0" fill="#000" font-weight="700" stroke="#000" stroke-width="0.3" text-anchor="middle" textLength="20.51" lengthAdjust="spacingAndGlyphs">-53.2</text>
<text x="552.40" y="465.10" font-size="9.6" fill="#3c3c3c" stroke="#3c3c3c" stroke-width="0.12" text-anchor="end" textLength="31.30" lengthAdjust="spacingAndGlyphs">Tabasco</text>
<circle cx="387.5" cy="458.4" r="0.9" fill="#222"/>
<circle cx="391.6" cy="461.2" r="0.9" fill="#222"/>
<circle cx="454.8" cy="448.2" r="0.9" fill="#222"/>
<circle cx="459.1" cy="458.1" r="0.9" fill="#222"/>
<circle cx="433.4" cy="468.6" r="0.9" fill="#222"/>
<text x="167.00" y="496.20" font-size="6.6" fill="#444" textLength="294.80" lengthAdjust="spacingAndGlyphs">• FUENTE: SESNSC • INFORMACIÓN: Lenina Ramos y Eduardo Luis Hernández • GRÁFICO: Moisés Butze</text>
<g transform="translate(181.3,66.30)"><g fill="none" stroke="#fff" stroke-width="0.9" stroke-linecap="round" stroke-linejoin="round">
<path d="M-9.8,1.6 L-6.4,-2.2 L-3.4,-2.6 L-5.6,0.4 L-8.4,3.2 Z"/>
<path d="M-7.2,5.4 L-2.2,-0.6 L1.8,-3.4 L8.6,-4.8 L9.8,-3.6 L7.6,-1.8 L6.8,3.2 L4.6,4 L4.4,-0.4 L1.4,1.6 L-0.6,4.6 L-2.8,3.4 L-5.4,6.2 Z"/>
<path d="M-3.2,-3.4 L1.6,-5 L4.8,-5"/>
<path d="M-1.4,2.6 L2.6,-1 M0.4,3.8 L3.6,1 M5.4,-3 L5.6,2.6 M-6.8,2 L-4.4,-0.8"/>
</g></g>
<g transform="translate(181.3,94.76)"><path d="M-4.6,3.4 V-5.2 A4.6,4.6 0 0 1 4.6,-5.2 V3.4 C7.5,3.6 9.3,5 9.6,7.8 H-9.6 C-9.3,5 -7.5,3.6 -4.6,3.4 Z" fill="#fff"/>
<path d="M0,-6 V0.6 M-2.3,-3.7 H2.3" stroke="#d6212a" stroke-width="1.1" fill="none"/></g>
<g transform="translate(181.3,123.22)"><path d="M-3.6,-7.7 C-3.4,-9.6 -1.8,-10.4 -0.4,-10.4 C1.2,-10.4 2.6,-9.6 2.8,-7.7 Z" fill="#fff"/>
<path d="M-3.8,-7.2 H4.6" stroke="#fff" stroke-width="0.7"/>
<path d="M-3.2,-5.6 H2.8 C2.8,-3.4 1.2,-0.8 -0.3,-0.8 C-1.8,-0.8 -3.2,-3.4 -3.2,-5.6 Z" fill="#fff"/>
<path d="M-7.2,11 V2.6 C-7.2,0.8 -5.2,0.2 -3,-0.4 L-0.3,1.4 L2.4,-0.4 C4.6,0.2 6.6,0.8 6.6,2.6 V11 Z" fill="#fff"/>
<path d="M-7.3,5.4 H6.7 M-7.3,7.8 H6.7 M-7.3,9.9 H6.7" stroke="#ec9ea1" stroke-width="0.8" fill="none"/></g>
<g transform="translate(181.3,151.68)"><path d="M-7.4,-4 C-8.6,-3.4 -9,-1.6 -8.6,0.2 C-7.6,4.2 -4,8 0.6,8.8 C2.2,9 3.8,8.2 4.3,6.8 L3.8,5.6 L1.2,4.4 L-0.6,5.6 C-2.8,4.8 -4.6,2.8 -5.4,0.6 L-4.2,-0.8 L-5.2,-3.6 L-6.2,-4.2 Z" fill="#fff"/>
<g fill="none" stroke="#fff" stroke-width="1.45" stroke-linecap="butt">
<path d="M-1.2,-3.8 A3.2,3.2 0 0 1 2,-0.6"/>
<path d="M-1.2,-6.9 A6.3,6.3 0 0 1 5.1,-0.6"/>
<path d="M-1.2,-10 A9.4,9.4 0 0 1 8.2,-0.6"/>
</g></g>
<g transform="translate(181.3,180.14)"><path d="M-4.4,3 C-4.2,0.4 -4.6,-2 -4.2,-4.8 C-3.8,-8 -2.4,-9.6 -0.4,-9.6 C1.8,-9.6 3.4,-8 3.9,-4.8 C4.4,-2 4.6,0.4 5,3 C7,3.6 8.4,5 8.7,7.8 H-8.4 C-8.2,5 -6.6,3.6 -4.4,3 Z" fill="#fff"/>
<path d="M-2.4,-3.2 C-2.6,-5 -1.2,-6.2 0.2,-6 L1.2,-6.8 L2,-5.2 C2.2,-3.4 1.4,-1.6 -0.2,-1.4 C-1.4,-1.4 -2.2,-2.2 -2.4,-3.2 Z" fill="#d6212a"/>
<path d="M-1.6,1 L0,3.4 L2.2,0.6 L1.4,0.2 L0,1.6 L-0.8,0.4 Z" fill="#d6212a"/>
<rect x="3" y="3.4" width="2.4" height="3" fill="#d6212a"/></g>
<g transform="translate(181.3,208.60)"><rect x="-10.2" y="-8.1" width="7.8" height="3.7" fill="#fff"/>
<path d="M-2.6,-8.4 L1.2,-9.4 L4.2,-7.4 L4.6,-4.6 L3,-2.4 L1.6,-0.8 L0,-2.2 L-2.6,-4 Z" fill="#fff"/>
<path d="M0.2,-6.2 L1.4,-5 M1.8,-7.8 L3.4,-5.4 M1.4,-3.6 L2.4,-2.8" stroke="#d6212a" stroke-width="0.8" fill="none" stroke-linecap="round"/>
<path d="M-5.7,-1.8 H-0.4 L1,-0.2 L4.6,-0.9 H7.8 V9.9 H-5.7 Z" fill="#fff"/></g>
<g transform="translate(181.3,237.06)"><path d="M-6.9,-3.2 L-5.2,-6.2 C-5,-6.7 -4.6,-6.9 -4.2,-6.9 H5 C5.4,-6.9 5.8,-6.7 6,-6.2 L7.8,-3.2 Z" fill="#fff"/>
<path d="M-5.2,-3.3 L-4,-5.6 H4.8 L6,-3.3 Z" fill="#d6212a"/>
<rect x="-9.6" y="-4" width="2.6" height="1.2" rx="0.4" fill="#fff"/><rect x="7.8" y="-4" width="2.6" height="1.2" rx="0.4" fill="#fff"/>
<path d="M-8.4,-1 C-8.4,-2.6 -7.4,-3.4 -6,-3.4 H6.8 C8.2,-3.4 9.3,-2.6 9.3,-1 V5.9 H-8.4 Z" fill="#fff"/>
<rect x="-8.1" y="5.6" width="2.7" height="2.4" rx="0.4" fill="#fff"/><rect x="6.4" y="5.6" width="2.8" height="2.4" rx="0.4" fill="#fff"/>
<rect x="-7.2" y="0.5" width="3" height="1.2" rx="0.5" fill="#d6212a"/><rect x="5.1" y="0.5" width="2.8" height="1.2" rx="0.5" fill="#d6212a"/>
<rect x="-2.7" y="3.2" width="6" height="0.95" fill="#d6212a"/></g>
</svg>
</body></html>
